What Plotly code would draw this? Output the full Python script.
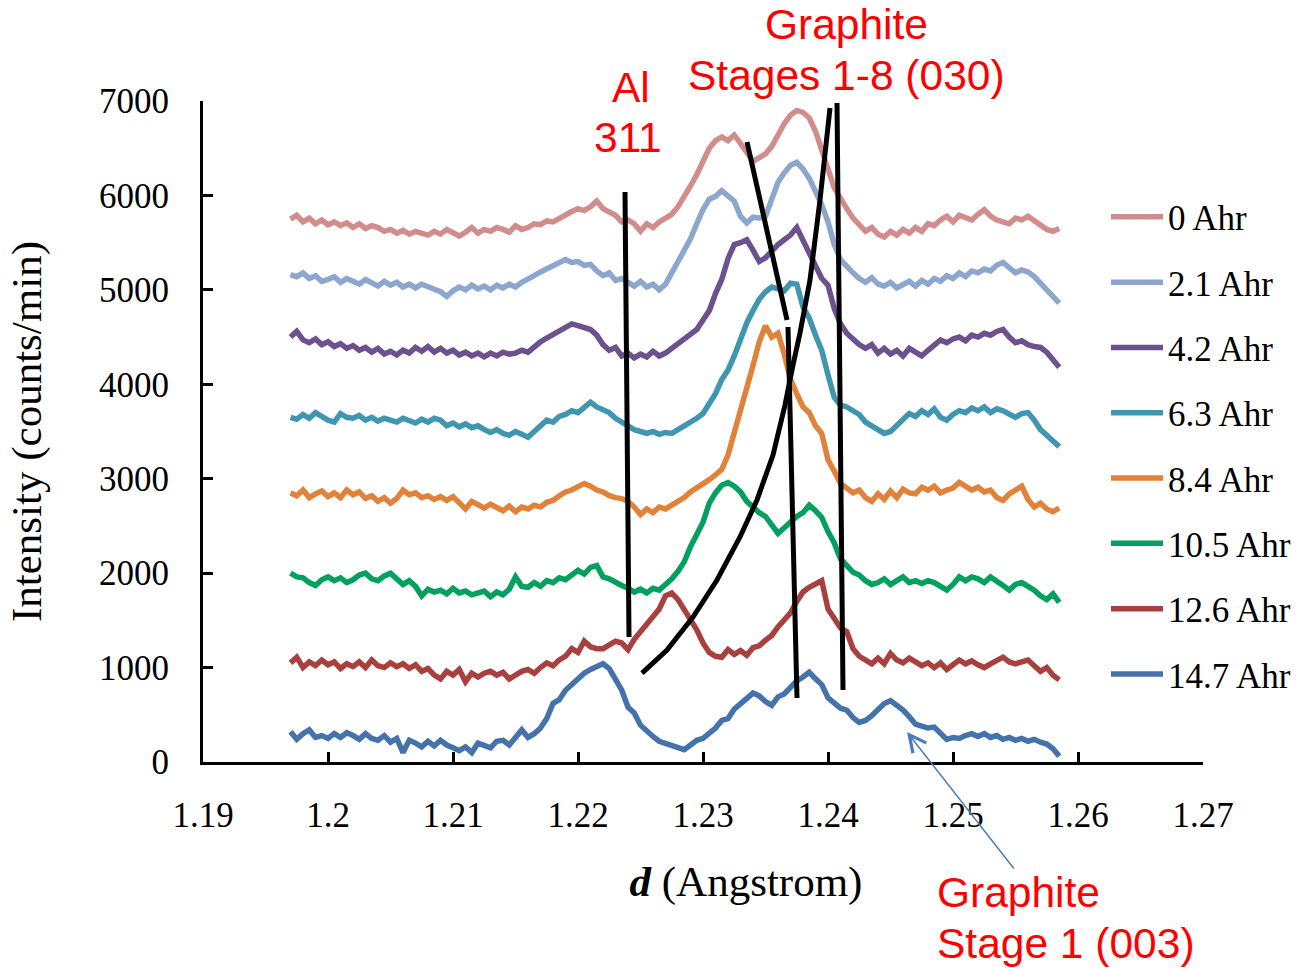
import numpy as np
import plotly.graph_objects as go

# ---------------- data ----------------
x_start = 1.197
x_step = 0.0005

series_names = ["0 Ahr", "2.1 Ahr", "4.2 Ahr", "6.3 Ahr", "8.4 Ahr", "10.5 Ahr", "12.6 Ahr", "14.7 Ahr"]
series_colors = ["#D18D8B", "#8CA6CE", "#6B518D", "#4096B0", "#E0823A", "#00A05E", "#A8403E", "#4472AA"]

s_0 = [
    5750, 5790, 5720, 5760, 5700, 5740, 5690, 5720, 5680, 5710,
    5660, 5700, 5650, 5680, 5660, 5620, 5640, 5600, 5630, 5590,
    5620, 5600, 5580, 5620, 5590, 5640, 5600, 5570, 5610, 5660,
    5600, 5640, 5620, 5660, 5640, 5610, 5680, 5640, 5660, 5700,
    5690, 5730, 5720, 5760, 5800, 5830, 5860, 5840, 5880, 5940,
    5860, 5820, 5790, 5720, 5740, 5700, 5620, 5700, 5660, 5720,
    5760, 5800, 5880, 5980, 6100, 6220, 6360, 6500, 6580, 6620,
    6580, 6640, 6550, 6450, 6360, 6400, 6440, 6520, 6640, 6760,
    6850, 6900, 6880, 6820, 6680, 6500, 6280, 6080, 5960, 5860,
    5760, 5680, 5620, 5660, 5590, 5560, 5620, 5580, 5640, 5600,
    5660, 5620, 5700, 5680, 5740, 5780, 5720, 5790, 5760, 5740,
    5800, 5850, 5780, 5740, 5720, 5700, 5760, 5740, 5780, 5730,
    5680, 5640, 5620, 5650,
]
s_2_1 = [
    5160, 5140, 5180, 5120, 5150, 5090, 5110, 5140, 5080, 5120,
    5090, 5060, 5110, 5070, 5040, 5090, 5050, 5080, 5030, 5060,
    5020, 5060, 5030, 5010, 4980, 4930, 4990, 5030, 5000, 5050,
    5010, 5040, 5000, 5050, 5020, 5060, 5030, 5080, 5110, 5150,
    5190, 5220, 5250, 5280, 5320, 5290, 5300, 5260, 5270, 5200,
    5150, 5180, 5100, 5120, 5080, 5040, 5090, 5030, 5060, 5000,
    5060, 5180, 5280, 5400, 5540, 5700, 5850, 5960, 5990, 6050,
    6000, 5940, 5780, 5710, 5770, 5760, 5780, 5960, 6140, 6240,
    6320, 6350, 6280, 6180, 6050, 5900, 5720, 5480, 5320, 5240,
    5180, 5120, 5080, 5130, 5060, 5040, 5080, 5020, 5060, 5090,
    5040, 5100, 5060, 5120, 5090, 5150, 5120, 5180, 5140, 5200,
    5180, 5220, 5200, 5260, 5290, 5240, 5180, 5210, 5190, 5140,
    5070, 5000, 4930, 4860,
]
s_4_2 = [
    4500, 4560, 4470, 4440, 4480, 4420, 4450, 4400, 4430, 4380,
    4410, 4360, 4390, 4340, 4380, 4320, 4350, 4310, 4360, 4330,
    4390, 4350, 4400, 4340, 4380, 4330, 4360, 4310, 4340, 4300,
    4330, 4290, 4330, 4300, 4340, 4320, 4330, 4360, 4340, 4400,
    4450, 4490, 4530, 4560, 4600, 4640, 4620, 4600, 4580, 4520,
    4420, 4360, 4390, 4300, 4330, 4280, 4320, 4290, 4350, 4300,
    4330, 4380, 4430, 4480, 4540, 4580, 4680, 4780, 4960, 5110,
    5330, 5480, 5500, 5530, 5420, 5300, 5340, 5420, 5480, 5530,
    5580, 5660, 5520, 5400, 5250, 5120, 5050, 4800, 4640, 4540,
    4480, 4420, 4380, 4420, 4330, 4380, 4320, 4360, 4300, 4380,
    4340, 4300, 4360, 4420, 4470, 4440, 4480, 4500, 4460, 4520,
    4500, 4540, 4520, 4560, 4580, 4500, 4440, 4460, 4420, 4400,
    4390, 4340, 4250, 4180,
]
s_6_3 = [
    3650, 3630, 3680, 3640, 3700, 3660, 3620, 3600, 3690, 3650,
    3640, 3670, 3620, 3650, 3610, 3640, 3620, 3600, 3640, 3610,
    3590, 3630, 3600, 3640, 3620, 3560, 3590, 3550, 3580, 3540,
    3560, 3520, 3490, 3520, 3480, 3460, 3500, 3470, 3440, 3500,
    3560, 3620, 3600, 3660, 3680, 3720, 3700, 3760, 3810, 3760,
    3730, 3700, 3640, 3600, 3560, 3520, 3500, 3480, 3500, 3470,
    3490, 3480, 3520, 3560, 3590, 3640, 3690, 3800, 3900, 4050,
    4150, 4300, 4480, 4650, 4780, 4900, 4980, 5030, 5010, 4990,
    5070, 5060, 4820, 4700, 4520, 4360, 4100, 3860, 3780, 3760,
    3720, 3680, 3600, 3560, 3520, 3480, 3500, 3560, 3620, 3690,
    3660, 3720, 3680, 3740, 3650, 3620, 3680, 3720, 3700, 3750,
    3720, 3760, 3700, 3740, 3720, 3690, 3650, 3690, 3700, 3620,
    3520, 3460, 3390, 3340,
]
s_8_4 = [
    2850, 2820, 2880, 2800, 2840, 2870, 2810, 2850, 2800, 2880,
    2830, 2860, 2790, 2820, 2760, 2800, 2740, 2790, 2880, 2830,
    2850, 2800, 2820, 2780, 2810, 2770, 2810, 2740, 2680, 2760,
    2720, 2690, 2730, 2700, 2660, 2710, 2650, 2700, 2680, 2720,
    2700, 2750, 2770, 2820, 2860, 2880, 2920, 2950, 2920, 2880,
    2860, 2820, 2800, 2790, 2760, 2700, 2620, 2680, 2640, 2700,
    2680, 2720, 2750, 2800, 2860, 2900, 2940, 2990, 3040, 3100,
    3250, 3480, 3700, 3950, 4200, 4450, 4620, 4500, 4540, 4320,
    4050, 3900, 3760, 3700, 3560, 3480, 3200, 3080, 2950, 2900,
    2850, 2880, 2800, 2760, 2840, 2780, 2870, 2800, 2890, 2850,
    2840, 2910, 2880, 2920, 2850, 2880, 2900, 2960, 2920, 2880,
    2910, 2860, 2880, 2800, 2770, 2840, 2880, 2920, 2780, 2700,
    2740, 2680, 2650, 2690,
]
s_10_5 = [
    2000, 1960, 1950, 1900, 1870, 1930, 1960, 1920, 1950, 1900,
    1930, 1980, 2000, 1940, 1920, 1970, 2000, 1940, 1880, 1920,
    1860, 1760, 1830, 1800, 1820, 1780, 1840, 1790, 1810, 1770,
    1790, 1810, 1750, 1800, 1770, 1830, 1960, 1860, 1850, 1900,
    1860, 1920, 1900, 1950, 1930, 1980, 2030, 1990, 2060, 2080,
    1960, 1940, 1900, 1870, 1840, 1800, 1830, 1790, 1840, 1820,
    1880, 1940, 2020, 2120, 2280, 2400, 2540, 2740, 2850, 2930,
    2960, 2920, 2860, 2760, 2700, 2640, 2600, 2500, 2420, 2480,
    2540, 2600, 2640, 2720, 2660, 2590, 2440, 2320, 2150, 2070,
    2010, 1980, 1920, 1880, 1900, 1940, 1880, 1920, 1960, 1900,
    1920, 1890, 1920, 1900, 1860, 1820, 1880, 1960, 1920, 1960,
    1940, 1900, 1960, 1920, 1870, 1820, 1880, 1900, 1860, 1820,
    1760, 1720, 1780, 1690,
]
s_12_6 = [
    1050, 1110, 1000, 1060, 1020, 1080, 1030, 1060, 990, 1040,
    1010, 1060, 1000, 1080, 1020, 1000, 1050, 1010, 1040, 990,
    1030, 960, 990, 920, 880, 960, 920, 980, 850, 940,
    900, 940, 960, 920, 950, 880, 920, 960, 980, 940,
    1000, 1050, 1020, 1080, 1120, 1200, 1160, 1280, 1220, 1200,
    1200, 1240, 1280, 1260, 1190, 1300, 1380, 1450, 1520, 1620,
    1760, 1790, 1720, 1620, 1500, 1400, 1260, 1160, 1120, 1110,
    1190, 1140, 1180, 1130, 1210, 1230, 1290, 1340, 1430, 1500,
    1580, 1700, 1800, 1850, 1880, 1920, 1620, 1520, 1420, 1380,
    1200, 1120, 1080, 1040, 1100, 1040, 1150, 1080, 1050, 1100,
    1060, 1020, 1050, 1000, 1050, 980, 1030, 1080, 1040, 1070,
    1030, 1000, 1040, 1080, 1110, 1060, 1040, 1060, 1080, 1020,
    960, 1000, 920, 870,
]
s_14_7 = [
    320, 240, 300, 340, 260, 280, 250, 300, 260, 310,
    280, 240, 300, 250, 230, 280, 210, 250, 100, 230,
    200, 160, 220, 170, 230, 180, 150, 120, 160, 100,
    200, 170, 150, 220, 230, 180, 250, 340, 260, 300,
    360, 460, 620, 660, 760, 820, 870, 940, 980, 1010,
    1040, 990, 860, 760, 580, 520, 390, 320, 270, 220,
    200, 170, 150, 130, 180, 230, 250, 310, 360, 440,
    460, 560, 620, 680, 730, 700, 640, 600, 690, 720,
    800, 860, 900, 950, 880, 820, 680, 620, 570, 550,
    470, 420, 440, 490, 560, 620, 650, 600, 550, 480,
    400, 380, 360, 370, 300, 240, 260, 250, 280, 300,
    270, 300, 260, 280, 240, 260, 230, 250, 220, 240,
    210, 190, 140, 60,
]
series_values = [s_0, s_2_1, s_4_2, s_6_3, s_8_4, s_10_5, s_12_6, s_14_7]

x_tick_vals = [1.19, 1.20, 1.21, 1.22, 1.23, 1.24, 1.25, 1.26, 1.27]
x_tick_text = ["1.19", "1.2", "1.21", "1.22", "1.23", "1.24", "1.25", "1.26", "1.27"]
y_tick_vals = [0, 1000, 2000, 3000, 4000, 5000, 6000, 7000]

# guide lines drawn on the figure (d, intensity)
al_line = [(1.22376, 6036), (1.22408, 1324)]
stage_line_a = [(1.23352, 6566), (1.23672, 4681)]
stage_line_b = [(1.2368, 4607), (1.23752, 678)]
stage_line_c = [(1.24072, 6979), (1.2412, 762)]
stage_curve = [(1.22512, 942), (1.22712, 1186), (1.2292, 1535), (1.23112, 1927),
               (1.23296, 2383), (1.23432, 2775), (1.2356, 3251), (1.23656, 3781),
               (1.2372, 4204), (1.23776, 4543), (1.23856, 5104), (1.23936, 5951),
               (1.24016, 6926)]
arrow_head = (1.24632, 318)

# ---------------- figure ----------------
SERIF = "Liberation Serif, Times New Roman, serif"
SANS = "Liberation Sans, Arial, sans-serif"

fig = go.Figure()
for name, color, vals in zip(series_names, series_colors, series_values):
    xs = x_start + x_step * np.arange(len(vals))
    fig.add_trace(go.Scatter(
        x=xs, y=vals, mode="lines", name=name, legendgroup=name,
        line=dict(color=color, width=5.5), hoverinfo="skip",
    ))

shapes = []
for seg in [al_line, stage_line_a, stage_line_b, stage_line_c]:
    (x0, y0), (x1, y1) = seg
    shapes.append(dict(type="line", xref="x", yref="y", x0=x0, y0=y0, x1=x1, y1=y1,
                       line=dict(color="black", width=5)))
path = "M " + " L ".join(f"{px},{py}" for px, py in stage_curve)
shapes.append(dict(type="path", xref="x", yref="y", path=path,
                   line=dict(color="black", width=5)))

red = "#FF0000"
RF = 42.5
annotations = [
    dict(text="Graphite", x=0.643, y=1.115, xref="paper", yref="paper", showarrow=False,
         font=dict(family=SANS, size=RF, color=red), xanchor="center", yanchor="middle"),
    dict(text="Stages 1-8 (030)", x=0.643, y=1.039, xref="paper", yref="paper", showarrow=False,
         font=dict(family=SANS, size=RF, color=red), xanchor="center", yanchor="middle"),
    dict(text="Al", x=0.428, y=1.021, xref="paper", yref="paper", showarrow=False,
         font=dict(family=SANS, size=RF, color=red), xanchor="center", yanchor="middle"),
    dict(text="311", x=0.425, y=0.9455, xref="paper", yref="paper", showarrow=False,
         font=dict(family=SANS, size=RF, color=red), xanchor="center", yanchor="middle"),
    dict(text="Graphite", x=0.732, y=-0.198, xref="paper", yref="paper", showarrow=False,
         font=dict(family=SANS, size=RF, color=red), xanchor="left", yanchor="middle"),
    dict(text="Stage 1 (003)", x=0.732, y=-0.274, xref="paper", yref="paper", showarrow=False,
         font=dict(family=SANS, size=RF, color=red), xanchor="left", yanchor="middle"),
    dict(text="", x=arrow_head[0], y=arrow_head[1], xref="x", yref="y",
         showarrow=True, ax=108, ay=138, arrowhead=5, arrowsize=2.2, arrowwidth=1.5,
         arrowcolor="#4A7EBB", standoff=0, startstandoff=0),
]

fig.update_layout(
    width=1305, height=968,
    margin=dict(l=203, r=102, t=101, b=206, autoexpand=False),
    paper_bgcolor="white", plot_bgcolor="white",
    shapes=shapes, annotations=annotations,
    font=dict(family=SERIF, size=35, color="black"),
    legend=dict(x=0.903, y=0.869, xanchor="left", yanchor="top",
                font=dict(family=SERIF, size=35, color="black"),
                itemwidth=52, tracegroupgap=16.8, bgcolor="rgba(0,0,0,0)"),
    xaxis=dict(range=[1.19, 1.27], tickvals=x_tick_vals, ticktext=x_tick_text,
               showline=True, linecolor="black", linewidth=3,
               ticks="inside", ticklen=10, tickwidth=3, tickcolor="black",
               showgrid=False, zeroline=False, ticklabelstandoff=20,
               tickfont=dict(family=SERIF, size=35),
               title=dict(text="&nbsp;" * 8 + "<b><i>d</i></b> (Angstrom)",
                          font=dict(family=SERIF, size=43), standoff=32)),
    yaxis=dict(range=[0, 7000], tickvals=y_tick_vals,
               showline=True, linecolor="black", linewidth=3,
               ticks="inside", ticklen=10, tickwidth=3, tickcolor="black",
               showgrid=False, zeroline=False, ticklabelstandoff=24,
               tickfont=dict(family=SERIF, size=35),
               title=dict(text="Intensity (counts/min)", font=dict(family=SERIF, size=43),
                          standoff=44)),
)

fig.write_html("out.html")
